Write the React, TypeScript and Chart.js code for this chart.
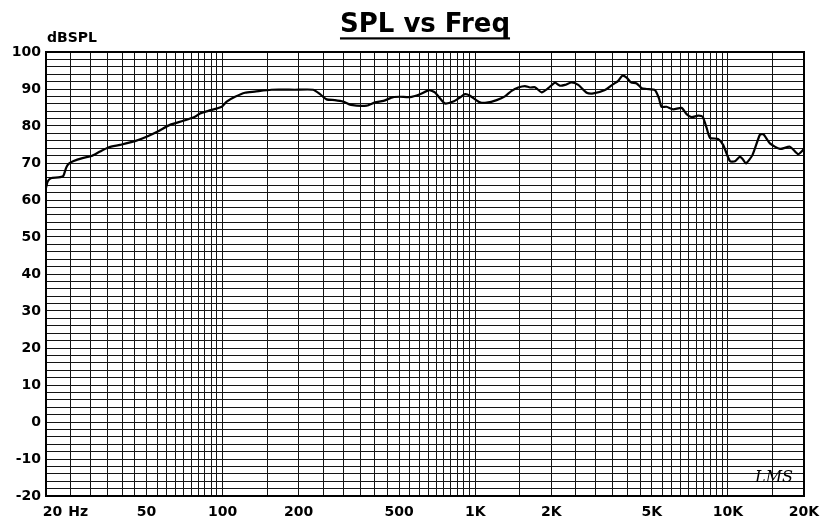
import React, { useEffect, useRef } from 'react';
import { Chart, registerables } from 'chart.js';

Chart.register(...registerables);

// ---- Data ----
const FREQ_HZ = [
  20, 20.3, 20.9, 22.4, 23.4, 24.0, 24.5, 25.6, 28.1, 30.3, 32.7, 35.3, 39.3, 45, 50, 55.6, 61.9, 69.9,
  77.7, 81.4, 87.8, 99.2, 103.8, 112, 122.6, 134, 156, 193, 228, 243, 258, 278, 300, 322, 372, 401,
  433, 473, 503, 551, 604, 657, 692, 725, 758, 818, 869, 910, 953, 1043, 1109, 1215, 1310, 1393,
  1479, 1572, 1647, 1722, 1831, 1944, 2066, 2162, 2264, 2406, 2556, 2761, 2932, 3260, 3516, 3682,
  3819, 3972, 4131, 4352, 4556, 4768, 5141, 5333, 5460, 5718, 6070, 6558, 6860, 7178, 7622, 7943,
  8240, 8492, 9140, 9572, 10185, 10660, 11146, 11431, 11790, 12512, 13376, 13800, 14660, 16070,
  17590, 18970, 20000,
];
const SPL_DB = [
  63.3, 65.0, 65.9, 66.1, 66.5, 68.6, 69.7, 70.5, 71.4, 71.9, 73.1, 74.2, 74.9, 75.9, 77.1, 78.6, 80.3, 81.4,
  82.5, 83.4, 84.1, 85.2, 86.6, 87.9, 89.0, 89.3, 89.8, 89.8, 89.8, 88.6, 87.2, 87.0, 86.6, 85.7, 85.5, 86.4,
  86.8, 87.8, 87.9, 87.8, 88.6, 89.7, 89.1, 87.5, 86.1, 86.6, 87.7, 88.6, 88.2, 86.4, 86.3, 87.0, 88.0, 89.5,
  90.4, 90.8, 90.4, 90.5, 89.1, 90.2, 91.7, 90.9, 91.1, 91.8, 91.1, 89.0, 88.8, 89.7, 91.3, 92.2,
  93.6, 93.1, 91.8, 91.5, 90.2, 90.0, 89.7, 87.5, 85.2, 85.2, 84.5, 84.9, 83.2, 82.4, 82.8, 82.5,
  79.4, 76.8, 76.5, 74.9, 70.5, 70.5, 71.7, 71.1, 69.9, 72.2, 77.6, 77.8, 75.3, 73.8,
  74.4, 72.4, 73.8,
];

// Frequency grid: mantissas per decade
const GRID_MANTISSAS = [1, 1.5, 2, 2.5, 3, 3.5, 4, 4.5, 5, 5.5, 6, 6.5, 7, 7.5, 8, 8.5, 9, 9.5];
const DECADES = [10, 100, 1000, 10000];
const X_MIN = 20;
const X_MAX = 20000;

// Frequency labels (label-only ticks, no grid line of their own)
const X_LABEL_VALUES = [21.2, 26.8, 50, 100, 200, 500, 1000, 2000, 5000, 10000, 20000];
const X_LABEL_TEXTS = ['20', 'Hz', '50', '100', '200', '500', '1K', '2K', '5K', '10K', '20K'];

const Y_MIN = -20;
const Y_MAX = 100;
const Y_GRID_STEP = 2;
const Y_LABEL_STEP = 10;

const TITLE = 'SPL vs Freq';
const Y_UNIT = 'dBSPL';
const SIGNATURE = 'LMS';

const FONT_FAMILY = '"DejaVu Sans", "Liberation Sans", Arial, sans-serif';

export default function App() {
  const canvasRef = useRef<HTMLCanvasElement | null>(null);

  useEffect(() => {
    const canvas = canvasRef.current;
    if (!canvas) return;

    const gridValues: number[] = [];
    DECADES.forEach((d) => {
      GRID_MANTISSAS.forEach((m) => {
        const v = Math.round(m * d * 1000) / 1000;
        if (v >= X_MIN && v <= X_MAX) gridValues.push(v);
      });
    });
    if (!gridValues.includes(X_MAX)) gridValues.push(X_MAX);
    const gridSet = new Set(gridValues);
    const labelMap = new Map<number, string>();
    X_LABEL_VALUES.forEach((v, i) => labelMap.set(v, X_LABEL_TEXTS[i]));
    const labelOnly = X_LABEL_VALUES.filter((v) => !gridSet.has(v));
    const allX = [...gridValues, ...labelOnly].sort((a, b) => a - b);

    const yTicks: number[] = [];
    for (let v = Y_MIN; v <= Y_MAX; v += Y_GRID_STEP) yTicks.push(v);

    const tickFont = { family: FONT_FAMILY, size: 14, weight: 'bold' as const };
    const gridColor = '#141414';

    const extras = {
      id: 'extras',
      afterDraw(chart: any) {
        const { ctx, chartArea } = chart;
        const { left, right, top, bottom } = chartArea;
        ctx.save();
        // plot border
        ctx.strokeStyle = '#000';
        ctx.lineWidth = 2;
        ctx.strokeRect(left, top, right - left, bottom - top);
        // title underline
        ctx.font = `bold 26px ${FONT_FAMILY}`;
        const w = ctx.measureText(TITLE).width;
        const cx = (left + right) / 2;
        ctx.fillStyle = '#000';
        ctx.fillRect(cx - w / 2, top - 14.7, w, 2.2);
        // y unit
        ctx.font = `bold 14px ${FONT_FAMILY}`;
        ctx.textAlign = 'left';
        ctx.textBaseline = 'alphabetic';
        ctx.fillText(Y_UNIT, left + 1, top - 10.3);
        // signature
        ctx.font = 'italic 16px "DejaVu Serif", "Liberation Serif", serif';
        ctx.textAlign = 'right';
        ctx.fillText(SIGNATURE, right - 11, bottom - 14);
        ctx.restore();
      },
    };

    const chart = new Chart(canvas, {
      type: 'line',
      data: {
        datasets: [
          {
            data: FREQ_HZ.map((f, i) => ({ x: f, y: SPL_DB[i] })),
            borderColor: '#000',
            borderWidth: 2.2,
            pointRadius: 0,
            tension: 0.2,
            fill: false,
          },
        ],
      },
      options: {
        animation: false,
        responsive: false,
        maintainAspectRatio: false,
        events: [],
        layout: { padding: { left: 0, right: 29, top: 0, bottom: 0 } },
        plugins: {
          legend: { display: false },
          tooltip: { enabled: false },
          title: {
            display: true,
            text: TITLE,
            fullSize: false,
            color: '#000',
            font: { family: FONT_FAMILY, size: 26, weight: 'bold', lineHeight: 1.2 },
            padding: { top: 10, bottom: 10.8 },
          },
        },
        scales: {
          x: {
            type: 'logarithmic',
            min: X_MIN,
            max: X_MAX,
            position: 'bottom',
            afterBuildTicks: (scale: any) => {
              scale.ticks = allX.map((v) => ({ value: v }));
            },
            afterFit: (scale: any) => {
              scale.height = 26;
            },
            border: { display: false },
            grid: {
              drawTicks: false,
              lineWidth: 1,
              color: (c: any) => (c.tick && gridSet.has(c.tick.value) ? gridColor : 'rgba(0,0,0,0)'),
            },
            ticks: {
              autoSkip: false,
              maxRotation: 0,
              minRotation: 0,
              padding: 8,
              color: '#000',
              font: tickFont,
              callback: (value: any) => labelMap.get(Number(value)) ?? '',
            },
          },
          y: {
            type: 'linear',
            min: Y_MIN,
            max: Y_MAX,
            afterBuildTicks: (scale: any) => {
              scale.ticks = yTicks.map((v) => ({ value: v }));
            },
            afterFit: (scale: any) => {
              scale.width = 46;
            },
            border: { display: false },
            grid: { drawTicks: false, lineWidth: 1, color: gridColor },
            ticks: {
              autoSkip: false,
              padding: 5,
              color: '#000',
              font: tickFont,
              callback: (value: any) => (Number(value) % Y_LABEL_STEP === 0 ? String(value) : ''),
            },
          },
        },
      },
      plugins: [extras],
    } as any);

    return () => chart.destroy();
  }, []);

  return (
    <div style={{ position: 'absolute', left: 0, top: 0, width: 833, height: 522, background: '#fff' }}>
      <canvas ref={canvasRef} width={833} height={522} style={{ display: 'block' }} />
    </div>
  );
}
